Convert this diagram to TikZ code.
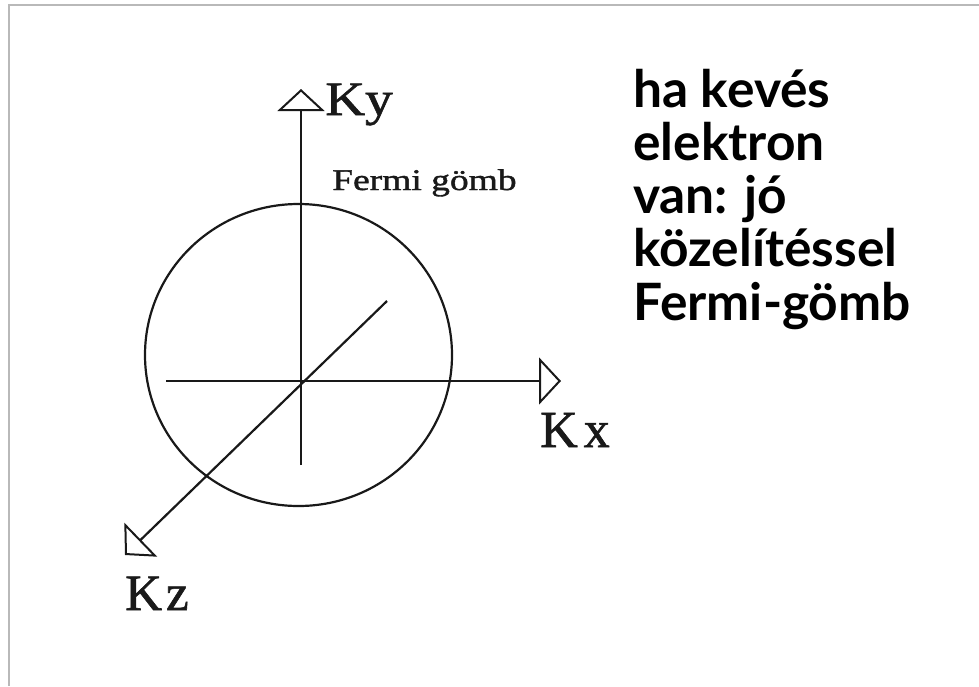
\documentclass[tikz,border=0pt]{standalone}
\usepackage{fontspec}
\setmainfont{Liberation Serif}
\newfontfamily\scanserif[FakeBold=1.2]{Liberation Serif}
\newfontfamily\lato{Lato}
\usetikzlibrary{arrows.meta}
\tikzset{
  axis/.style={line width=2.2pt, draw=black!90, -{Triangle[open, length=22pt, width=47pt, line width=2pt]}},
  plain/.style={line width=2.2pt, draw=black!90},
  serif/.style={inner sep=0pt, anchor=base west, text=black!90},
  side/.style={inner sep=0pt, anchor=base west, font=\lato\bfseries\fontsize{51.5}{53}\selectfont}
}
\begin{document}
\begin{tikzpicture}[x=1pt,y=-1pt]
\useasboundingbox (0,0) rectangle (979,686);
% frame
\draw[gray!55, line width=1.4pt] (9,686) -- (9,5) -- (979,5);
% coordinates
\coordinate (O) at (301,382);
\coordinate (ybot) at (301,465);
\coordinate (ytip) at (301,89);
\coordinate (xleft) at (166,381);
\coordinate (xtip) at (561,381);
\coordinate (zstart) at (387,301);
\coordinate (ztip) at (125,555);
\coordinate (C) at (298.5,355);
% sphere
\draw[plain] (C) ellipse [x radius=153.5, y radius=151];
% axes
\draw[axis] (ybot) -- (ytip);
\draw[axis] (xleft) -- (xtip);
\draw[axis] (zstart) -- (ztip);
% labels
\node[serif, font=\scanserif\fontsize{48}{50}\selectfont, xscale=1.15] (ky) at (325,115) {Ky};
\node[serif, font=\scanserif\fontsize{30}{32}\selectfont, xscale=1.25] (fg) at (332,190) {Fermi gömb};
\node[serif, font=\scanserif\fontsize{52}{54}\selectfont] (kx) at (540,447) {K\hspace{6pt}x};
\node[serif, font=\scanserif\fontsize{51}{53}\selectfont] (kz) at (125,610) {K\hspace{4pt}z};
% side text
\node[side] (t1) at (633,107) {ha kevés};
\node[side] (t2) at (633,160.3) {elektron};
\node[side] (t3) at (633,213.6) {van: jó};
\node[side] (t4) at (633,266.9) {közelítéssel};
\node[side] (t5) at (633,320.2) {Fermi-gömb};
\end{tikzpicture}
\end{document}
